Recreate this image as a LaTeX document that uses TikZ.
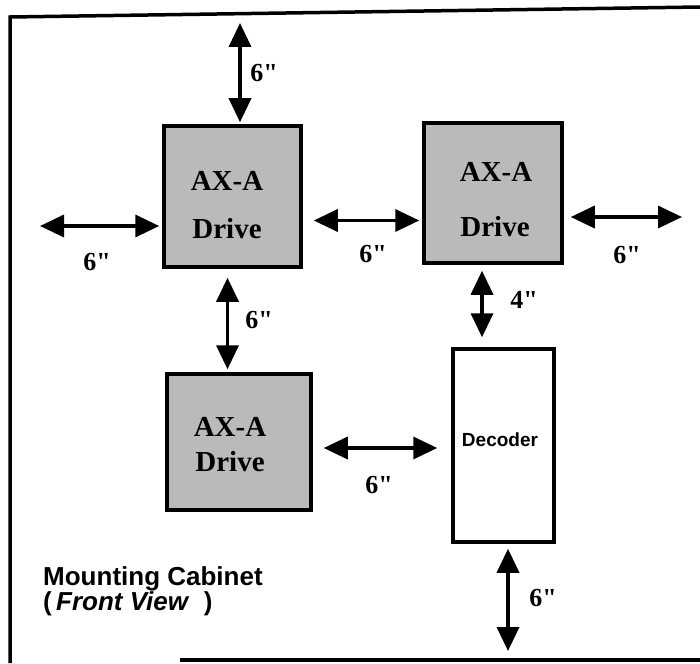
\documentclass[tikz,border=0pt]{standalone}
\usepackage{fontspec}
\setmainfont{Liberation Serif}
\setsansfont{Liberation Sans}
\newfontfamily\dimfont{Liberation Serif}[Ligatures=TeXOff]
\usetikzlibrary{arrows.meta,positioning,calc}
\tikzset{
  drvbox/.style={rectangle,draw=black,line width=3.5pt,fill=black!27,inner sep=0pt},
  decbox/.style={rectangle,draw=black,line width=3.5pt,fill=white,inner sep=0pt},
  drvtxt/.style={font=\bfseries\fontsize{29}{34}\selectfont,inner sep=0pt},
  dimtxt/.style={font=\dimfont\bfseries\fontsize{26}{30}\selectfont,inner sep=0pt},
  captxt/.style={font=\sffamily\bfseries\fontsize{26}{28}\selectfont,inner sep=0pt,anchor=base west},
  dimarr/.style={{Triangle[length=24pt,width=22pt]}-{Triangle[length=24pt,width=22pt]},
                 line width=3.5pt},
  frameln/.style={line width=3.5pt}
}
\begin{document}
\begin{tikzpicture}[x=1pt,y=-1pt]
  \useasboundingbox (0,0) rectangle (700,663);
  % cabinet frame
  \draw[frameln] (700,7) -- (10,17) -- (10,663);
  \draw[frameln] (180,660) -- (700,660);

  % drives and decoder
  \node[drvbox,minimum width=137pt,minimum height=141pt] (d1) at (232.5,196.5) {};
  \node[drvbox,minimum width=138pt,minimum height=140pt] (d2) at (493,193) {};
  \node[drvbox,minimum width=144pt,minimum height=136pt] (d3) at (239,442) {};
  \node[decbox,minimum width=101pt,minimum height=193pt] (dec) at (503.5,445.5) {};

  \node[drvtxt] (d1a) at (227,181) {AX-A};
  \node[drvtxt] (d1b) at (227,229) {Drive};
  \node[drvtxt] (d2a) at (496,172) {AX-A};
  \node[drvtxt] (d2b) at (495,227) {Drive};
  \node[drvtxt] (d3a) at (230,427) {AX-A};
  \node[drvtxt] (d3b) at (230,462) {Drive};
  \node[font=\sffamily\bfseries\fontsize{19}{22}\selectfont,inner sep=0pt] (dect) at (500,440) {Decoder};

  % free ends
  \coordinate (t1) at (240,23);
  \coordinate (l1) at (40,226);
  \coordinate (r2) at (682,217);
  \coordinate (b4) at (508,651);

  % clearances
  \draw[dimarr,shorten >=2pt] (t1) -- (t1 |- d1.north);
  \draw[dimarr,shorten >=3pt] (l1) -- (l1 -| d1.west);
  \draw[dimarr,shorten <=11pt,shorten >=3pt] ([yshift=-24pt]d1.east) -- ([yshift=-24pt]d1.east -| d2.west);
  \draw[dimarr,shorten <=7pt] (r2 -| d2.east) -- (r2);
  \draw[dimarr,shorten <=9pt,shorten >=3pt] ([xshift=-5pt]d1.south) -- ([xshift=-5pt]d1.south |- d3.north);
  \draw[dimarr,shorten <=6pt,shorten >=10pt] ([xshift=-11pt]d2.south) -- ([xshift=-11pt]d2.south |- dec.north);
  \draw[dimarr,shorten <=11pt,shorten >=14pt] ([yshift=-6pt]d3.east) -- ([yshift=-6pt]d3.east -| dec.west);
  \draw[dimarr,shorten <=5pt] (b4 |- dec.south) -- (b4);

  \node[dimtxt] (c1) at (264,73) {6"};
  \node[dimtxt] (c2) at (97,262) {6"};
  \node[dimtxt] (c3) at (373,254) {6"};
  \node[dimtxt] (c4) at (627,255) {6"};
  \node[dimtxt] (c5) at (259,320) {6"};
  \node[dimtxt] (c6) at (524,300) {4"};
  \node[dimtxt] (c7) at (379,485) {6"};
  \node[dimtxt] (c8) at (543,598) {6"};

  \node[captxt] (cab) at (43,585) {Mounting Cabinet};
  \node[captxt] (view) at (43,610) {(\,\textit{Front View}\ \ )};
\end{tikzpicture}
\end{document}
